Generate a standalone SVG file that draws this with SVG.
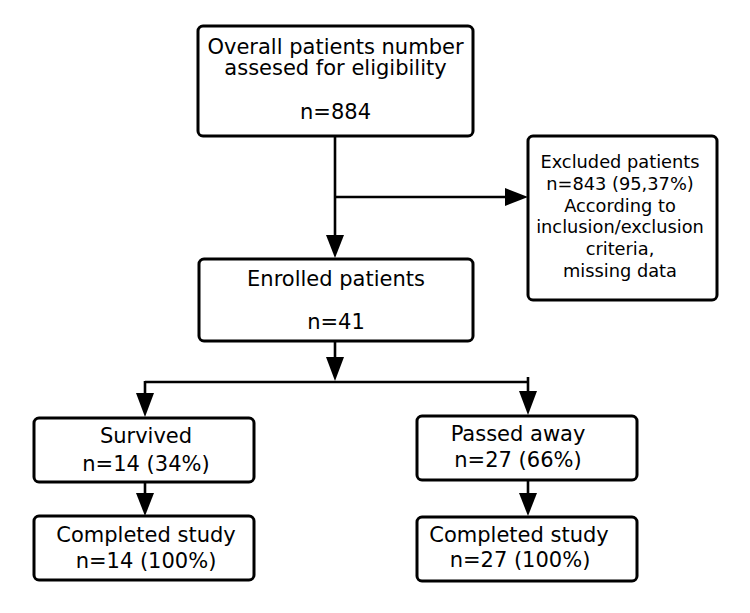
<svg xmlns="http://www.w3.org/2000/svg" width="750" height="613" viewBox="0 0 750 613">
<style>
.box{fill:#fff;stroke:#000;stroke-width:3}
.ln{fill:none;stroke:#000;stroke-width:2.6}
.ah{fill:#000}
text{font-family:"DejaVu Sans",sans-serif;fill:#000;text-anchor:middle}
.t21{font-size:21px}
.t18{font-size:17.8px}
</style>
<rect width="750" height="613" fill="#fff"/>
<g id="connectors">
<path class="ln" d="M335,136 V236"/>
<polygon class="ah" points="326,235 344,235 335,258"/>
<path class="ln" d="M335,197 H506"/>
<polygon class="ah" points="505,188 505,206 528,197"/>
<path class="ln" d="M335,341 V358"/>
<polygon class="ah" points="326,357 344,357 335,381"/>
<path class="ln" d="M145,382 H528 M145,381 V394 M528,377 V392"/>
<polygon class="ah" points="136,393 154,393 145,417"/>
<polygon class="ah" points="519,391 537,391 528,415"/>
<path class="ln" d="M145,482 V494 M528,480 V494"/>
<polygon class="ah" points="136,493 154,493 145,516"/>
<polygon class="ah" points="519,493 537,493 528,516"/>
</g>
<g id="overall">
<rect class="box" x="198" y="26" width="275" height="110" rx="5"/>
<text class="t21" x="335.5" y="54">Overall patients number</text>
<text class="t21" x="335.5" y="75">assesed for eligibility</text>
<text class="t21" x="335.5" y="119">n=884</text>
</g>
<g id="excluded">
<rect class="box" x="528" y="136" width="189" height="164" rx="5"/>
<text class="t18" x="620" y="168">Excluded patients</text>
<text class="t18" x="620" y="190">n=843 (95,37%)</text>
<text class="t18" x="620" y="212">According to</text>
<text class="t18" x="620" y="233">inclusion/exclusion</text>
<text class="t18" x="620" y="255">criteria,</text>
<text class="t18" x="620" y="277">missing data</text>
</g>
<g id="enrolled">
<rect class="box" x="199" y="259" width="274" height="82" rx="5"/>
<text class="t21" x="336" y="286">Enrolled patients</text>
<text class="t21" x="336" y="329">n=41</text>
</g>
<g id="survived">
<rect class="box" x="34" y="418" width="220" height="64" rx="5"/>
<text class="t21" x="146" y="443">Survived</text>
<text class="t21" x="146" y="471">n=14 (34%)</text>
</g>
<g id="completed-left">
<rect class="box" x="34" y="516" width="220" height="64" rx="5"/>
<text class="t21" x="146" y="542">Completed study</text>
<text class="t21" x="146" y="568">n=14 (100%)</text>
</g>
<g id="passed">
<rect class="box" x="417" y="416" width="220" height="64" rx="5"/>
<text class="t21" x="518" y="441">Passed away</text>
<text class="t21" x="518" y="467">n=27 (66%)</text>
</g>
<g id="completed-right">
<rect class="box" x="417" y="517" width="220" height="64" rx="5"/>
<text class="t21" x="519" y="542">Completed study</text>
<text class="t21" x="520" y="567">n=27 (100%)</text>
</g>
</svg>
